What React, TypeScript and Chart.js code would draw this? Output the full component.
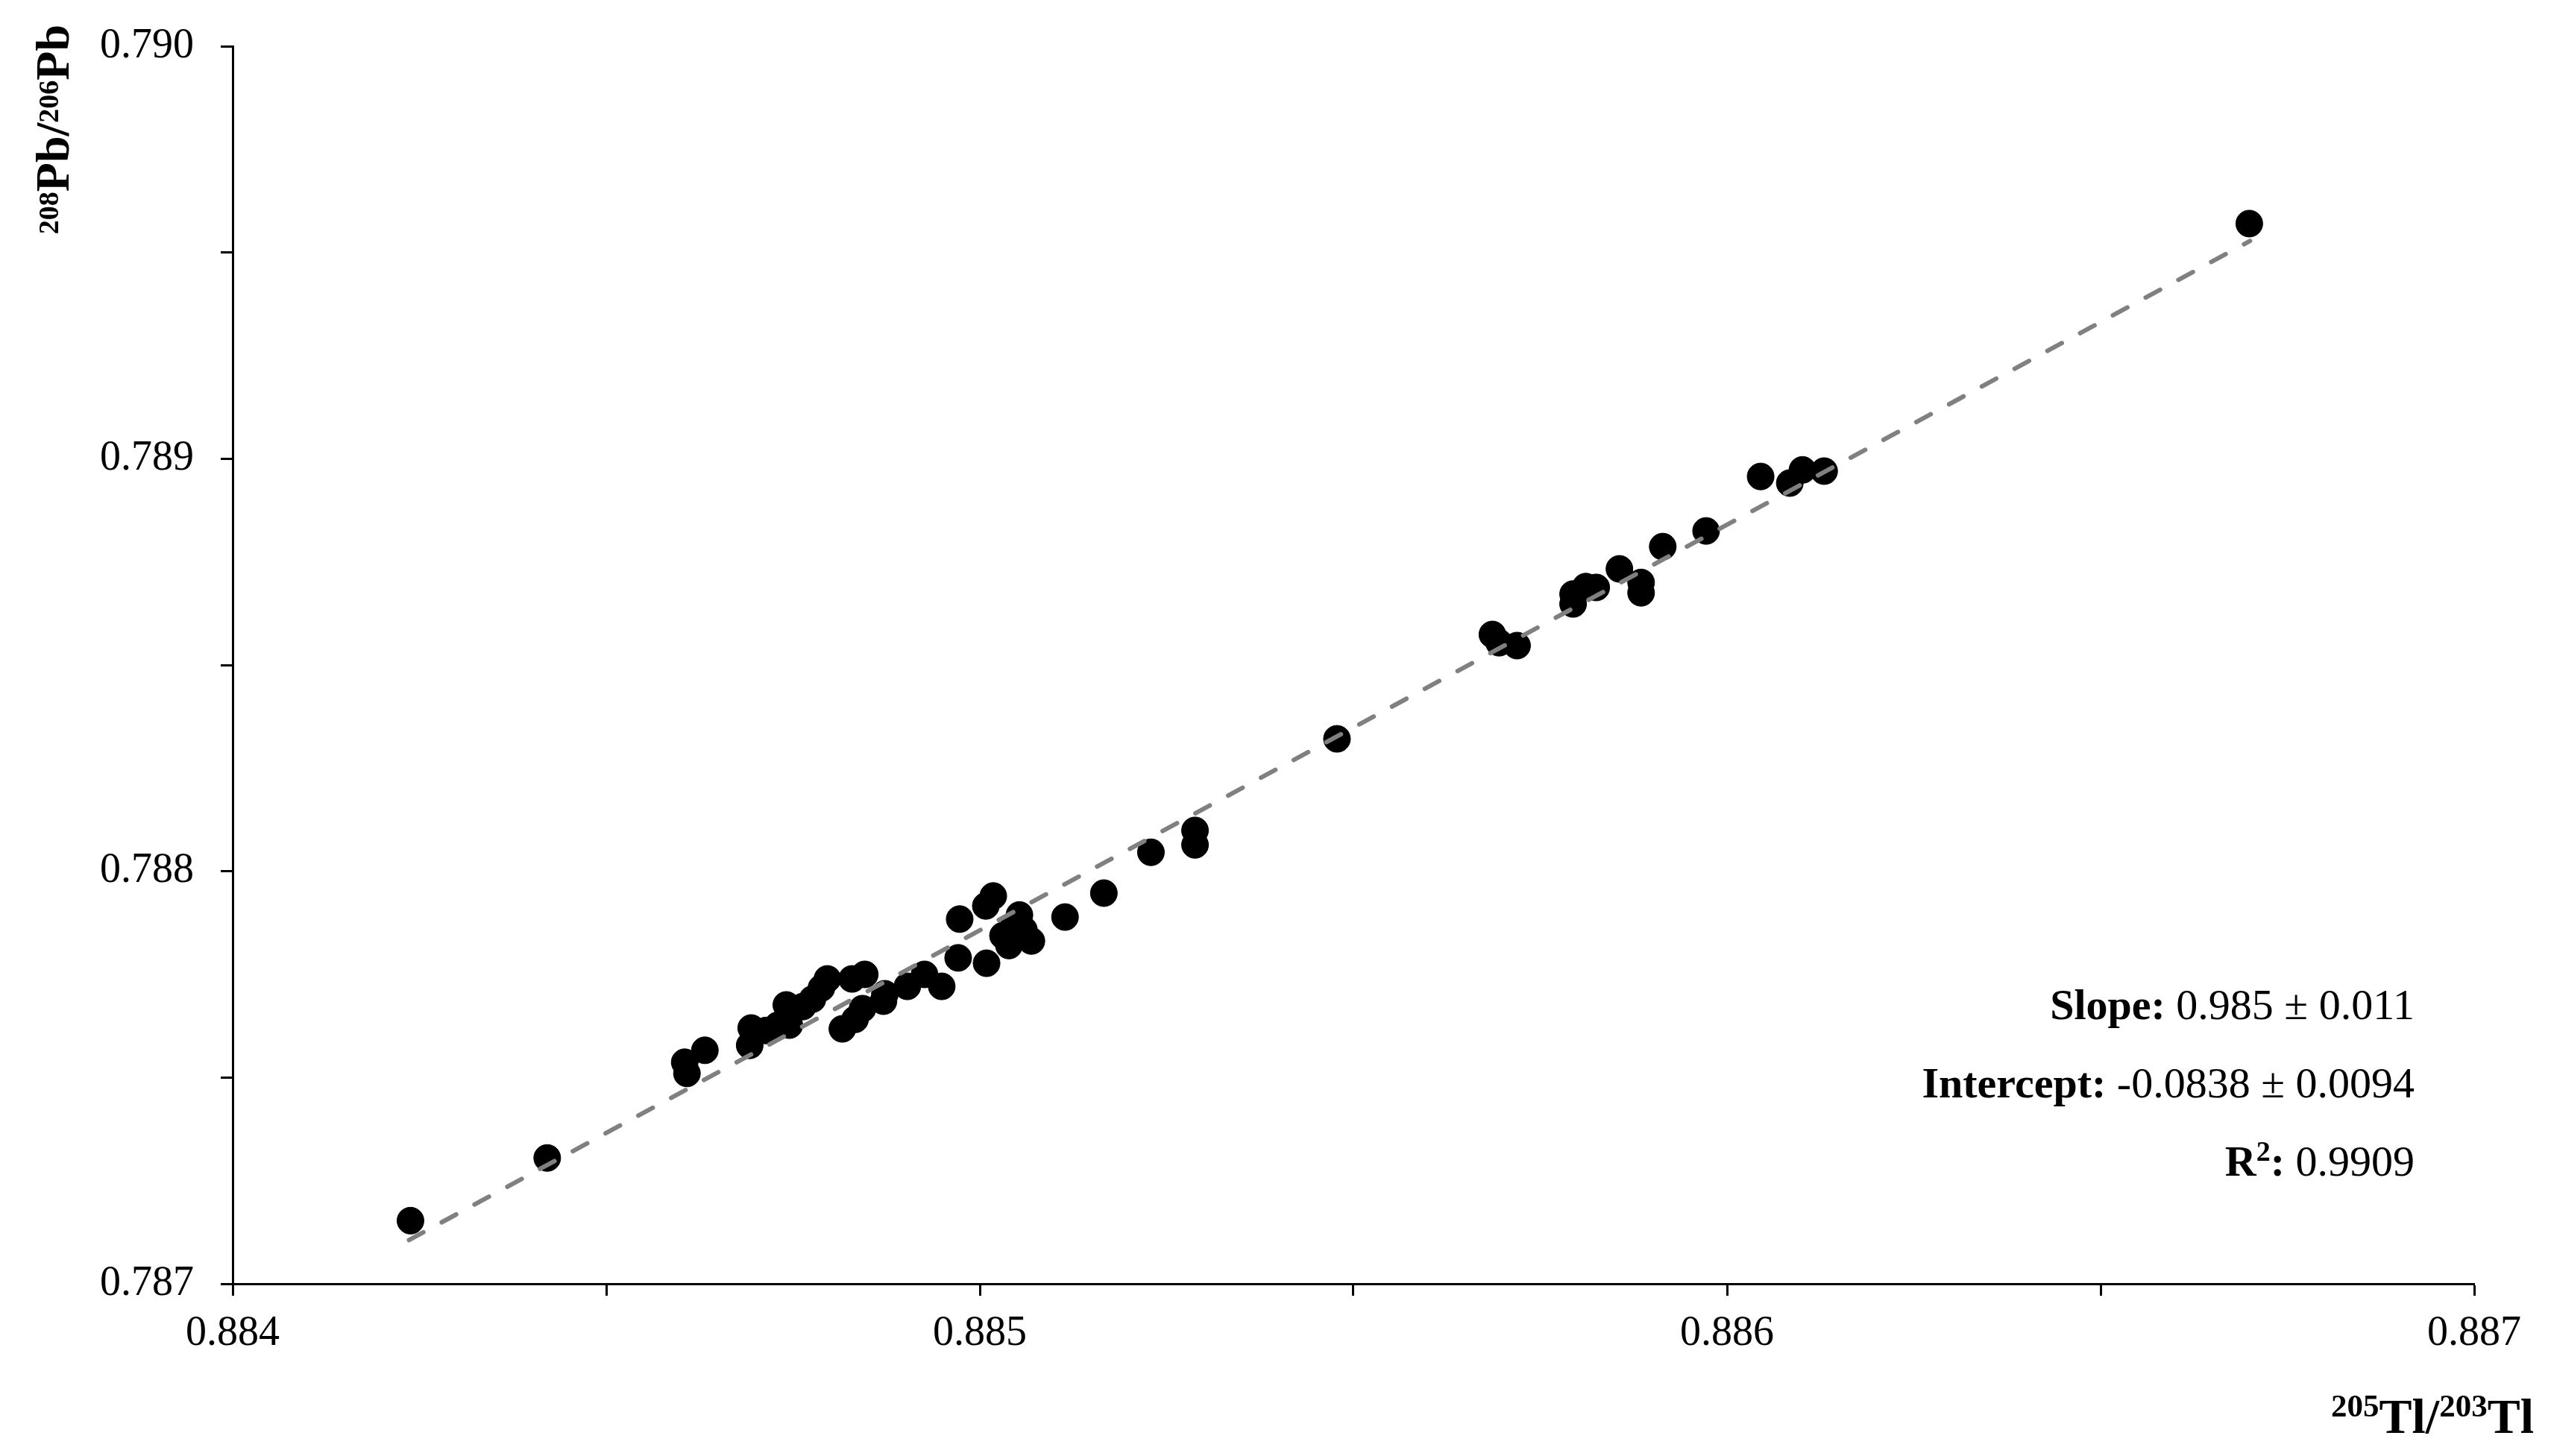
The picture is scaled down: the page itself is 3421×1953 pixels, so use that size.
import React, { useEffect, useRef } from 'react';
import { Chart, registerables } from 'chart.js';

Chart.register(...registerables);

// 205Tl/203Tl ratio (x) for each measurement
const tlRatio = [
  0.884238, 0.884421, 0.884605, 0.884608, 0.884632, 0.884692, 0.884694, 0.884714,
  0.88473, 0.884745, 0.884741, 0.884763, 0.884776, 0.884788, 0.884796, 0.884816,
  0.884829, 0.884833, 0.884843, 0.884846, 0.884871, 0.884873, 0.884903, 0.884926,
  0.884949, 0.884971, 0.884973, 0.885008, 0.885009, 0.885018, 0.885031, 0.885039,
  0.885046, 0.885053, 0.885059, 0.885069, 0.885114, 0.885166, 0.885229, 0.885288,
  0.885288, 0.885478, 0.885686, 0.885695, 0.885719, 0.885794, 0.885794, 0.885811,
  0.885825, 0.885856, 0.885885, 0.885885, 0.885914, 0.885972, 0.886045, 0.886084,
  0.886101, 0.88613, 0.886699,
];

// 208Pb/206Pb ratio (y) for each measurement
const pbRatio = [
  0.787153, 0.787305, 0.787537, 0.78751, 0.787566, 0.787578, 0.78762, 0.787614,
  0.787627, 0.787627, 0.787676, 0.787672, 0.78769, 0.787717, 0.787739, 0.787618,
  0.787739, 0.787641, 0.787667, 0.78775, 0.787685, 0.787703, 0.787721, 0.78775,
  0.787721, 0.78779, 0.787884, 0.787916, 0.787777, 0.78794, 0.787844, 0.78782,
  0.787871, 0.787894, 0.787858, 0.787831, 0.787889, 0.787947, 0.788046, 0.788099,
  0.788064, 0.788321, 0.788574, 0.788554, 0.788547, 0.788648, 0.788672, 0.78869,
  0.788688, 0.788733, 0.7887, 0.788675, 0.788787, 0.788825, 0.788957, 0.788941,
  0.788973, 0.78897, 0.78957,
];

// regression (trend) line end points
const trendTl = [0.884236, 0.8867];
const trendPb = [0.787106, 0.789528];

// axes
const xRange = [0.884, 0.887];
const yRange = [0.787, 0.79];
const majorStep = 0.001;
const minorStep = 0.0005;

// statistics text
const statLabels = ['Slope:', 'Intercept:', 'R'];
const statSup = ['', '', '2'];
const statAfter = ['', '', ':'];
const statValues = [' 0.985 \u00b1 0.011', ' -0.0838 \u00b1 0.0094', ' 0.9909'];

const SERIF = "'Liberation Serif', 'Times New Roman', serif";

type Run = { text: string; size: number; bold: boolean; rise: number };

function drawRuns(ctx: CanvasRenderingContext2D, runs: Run[], x: number, y: number, align: 'left' | 'right') {
  const widths = runs.map((r) => {
    ctx.font = `${r.bold ? 'bold ' : ''}${r.size}px ${SERIF}`;
    return ctx.measureText(r.text).width;
  });
  const total = widths.reduce((a, b) => a + b, 0);
  let cx = align === 'right' ? x - total : x;
  ctx.textAlign = 'left';
  ctx.textBaseline = 'alphabetic';
  runs.forEach((r, i) => {
    ctx.font = `${r.bold ? 'bold ' : ''}${r.size}px ${SERIF}`;
    ctx.fillText(r.text, cx, y - r.rise);
    cx += widths[i];
  });
  return total;
}

const textPlugin = {
  id: 'customTexts',
  beforeDraw(chart: any) {
    const ctx = chart.ctx as CanvasRenderingContext2D;
    ctx.save();
    ctx.fillStyle = '#ffffff';
    ctx.fillRect(0, 0, chart.width, chart.height);
    ctx.restore();
  },
  afterDraw(chart: any) {
    const ctx = chart.ctx as CanvasRenderingContext2D;
    const area = chart.chartArea;
    ctx.save();
    ctx.fillStyle = '#000000';

    // Y axis title (rotated), reading bottom to top, top end near axis top
    const yTitleRuns: Run[] = [
      { text: '208', size: 38, bold: true, rise: 14 },
      { text: 'Pb/', size: 64, bold: true, rise: 0 },
      { text: '206', size: 38, bold: true, rise: 14 },
      { text: 'Pb', size: 64, bold: true, rise: 0 },
    ];
    let yLen = 0;
    yTitleRuns.forEach((r) => {
      ctx.font = `bold ${r.size}px ${SERIF}`;
      yLen += ctx.measureText(r.text).width;
    });
    ctx.save();
    ctx.translate(area.left - 220, area.top - 29 + yLen);
    ctx.rotate(-Math.PI / 2);
    drawRuns(ctx, yTitleRuns, 0, 0, 'left');
    ctx.restore();

    // X axis title, right aligned beyond the axis end
    const xTitleRuns: Run[] = [
      { text: '205', size: 43, bold: true, rise: 22 },
      { text: 'Tl/', size: 66, bold: true, rise: 0 },
      { text: '203', size: 43, bold: true, rise: 22 },
      { text: 'Tl', size: 66, bold: true, rise: 0 },
    ];
    drawRuns(ctx, xTitleRuns, area.right + 80, area.bottom + 200, 'right');

    // statistics block
    const statRight = area.right - 80;
    const baselines = [area.bottom - 355, area.bottom - 250, area.bottom - 145];
    statLabels.forEach((lab, i) => {
      const runs: Run[] = [{ text: lab, size: 58, bold: true, rise: 0 }];
      if (statSup[i]) runs.push({ text: statSup[i], size: 38, bold: true, rise: 20 });
      if (statAfter[i]) runs.push({ text: statAfter[i], size: 58, bold: true, rise: 0 });
      runs.push({ text: statValues[i], size: 58, bold: false, rise: 0 });
      drawRuns(ctx, runs, statRight, baselines[i], 'right');
    });
    ctx.restore();
  },
};

function isMajor(v: number) {
  const q = v / majorStep;
  return Math.abs(q - Math.round(q)) < 1e-4;
}

export default function App() {
  const canvasRef = useRef<HTMLCanvasElement | null>(null);

  useEffect(() => {
    const canvas = canvasRef.current;
    if (!canvas) return;
    const points = tlRatio.map((x, i) => ({ x, y: pbRatio[i] }));
    const trend = trendTl.map((x, i) => ({ x, y: trendPb[i] }));

    const axisCommon = {
      type: 'linear' as const,
      grid: {
        display: true,
        drawOnChartArea: false,
        drawTicks: true,
        tickLength: 16,
        tickWidth: 3,
        tickColor: '#000000',
      },
      border: { display: true, color: '#000000', width: 3 },
    };

    const chart = new Chart(canvas, {
      type: 'scatter',
      data: {
        datasets: [
          {
            label: 'trend',
            data: trend,
            showLine: true,
            borderColor: '#808080',
            borderWidth: 6,
            borderDash: [22, 28],
            borderCapStyle: 'round',
            pointRadius: 0,
            pointHoverRadius: 0,
            fill: false,
            order: 0,
          } as any,
          {
            label: 'data',
            data: points,
            backgroundColor: '#000000',
            borderColor: '#000000',
            borderWidth: 1,
            pointRadius: 18,
            pointHoverRadius: 18,
            order: 1,
          },
        ],
      },
      options: {
        animation: false,
        responsive: false,
        devicePixelRatio: 1,
        layout: { padding: { left: 0, right: 103, top: 62, bottom: 0 } },
        plugins: {
          legend: { display: false },
          tooltip: { enabled: false },
        },
        scales: {
          x: {
            ...axisCommon,
            position: 'bottom',
            min: xRange[0],
            max: xRange[1],
            afterFit: (scale: any) => {
              scale.height = 231;
              scale.paddingLeft = 0;
              scale.paddingRight = 0;
            },
            ticks: {
              stepSize: minorStep,
              autoSkip: false,
              maxRotation: 0,
              padding: 18,
              color: '#000000',
              font: { family: SERIF, size: 56 },
              callback: (v: any) => (isMajor(Number(v)) ? Number(v).toFixed(3) : ''),
            },
          },
          y: {
            ...axisCommon,
            position: 'left',
            min: yRange[0],
            max: yRange[1],
            afterFit: (scale: any) => {
              scale.width = 312;
              scale.paddingTop = 0;
              scale.paddingBottom = 0;
            },
            ticks: {
              stepSize: minorStep,
              autoSkip: false,
              padding: 36,
              color: '#000000',
              font: { family: SERIF, size: 56 },
              callback: (v: any) => (isMajor(Number(v)) ? Number(v).toFixed(3) : ''),
            },
          },
        },
      } as any,
      plugins: [textPlugin],
    });

    return () => {
      chart.destroy();
    };
  }, []);

  return (
    <div style={{ position: 'absolute', left: 0, top: 0, width: 3421, height: 1953, background: '#ffffff' }}>
      <canvas ref={canvasRef} width={3421} height={1953} />
    </div>
  );
}
